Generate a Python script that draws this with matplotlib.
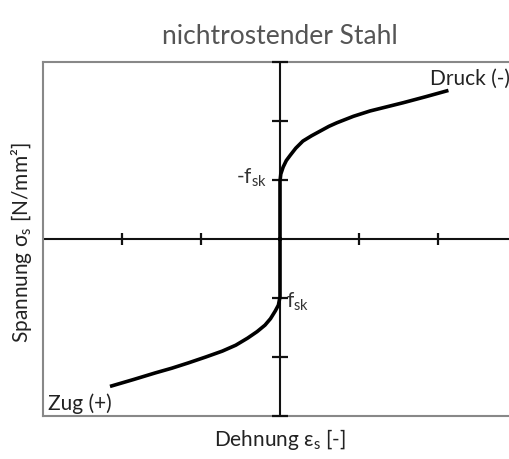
import numpy as np
import matplotlib
matplotlib.use('Agg')
import matplotlib.pyplot as plt

plt.rcParams['font.family'] = ['Lato', 'DejaVu Sans']
plt.rcParams['mathtext.fontset'] = 'custom'
plt.rcParams['mathtext.rm'] = 'Lato'
plt.rcParams['mathtext.it'] = 'Lato:italic'

# Druck-Ast (oben rechts) und Zug-Ast (unten links)
druck_x = [0.0, 0.0, 0.0, 0.01, 0.04, 0.08, 0.13, 0.20, 0.29, 0.40, 0.51, 0.62,
           0.72, 0.93, 1.14, 1.35, 1.56, 1.84, 2.11]
druck_y = [0.0, 0.6, 0.98, 1.10, 1.22, 1.33, 1.42, 1.54, 1.66, 1.75, 1.83, 1.91,
           1.97, 2.08, 2.17, 2.24, 2.31, 2.41, 2.51]
zug_x = [0.0, 0.0, 0.0, -0.02, -0.06, -0.12, -0.19, -0.29, -0.41, -0.56, -0.73,
         -0.94, -1.16, -1.37, -1.58, -1.85, -2.13]
zug_y = [0.0, -0.6, -0.98, -1.12, -1.22, -1.35, -1.46, -1.57, -1.68, -1.80, -1.90,
         -2.00, -2.10, -2.19, -2.27, -2.38, -2.49]

x_ticks = [-2, -1, 1, 2]
y_ticks = [-3, -2, -1, 1, 2, 3]

fig = plt.figure(figsize=(5.09, 4.6), dpi=100)
ax = fig.add_axes([43/509, 43/460, 466/509, 354/460])
ax.set_xlim(-3, -3 + 466/79)
ax.set_ylim(-3, 3)

for s in ['left', 'top', 'bottom']:
    ax.spines[s].set_color('#888888')
    ax.spines[s].set_linewidth(1.5)
ax.spines['right'].set_visible(False)
ax.set_xticks([])
ax.set_yticks([])

# Achsenkreuz
ax.axhline(0, color='#111111', lw=1.5, zorder=2)
ax.axvline(0, color='#111111', lw=1.5, zorder=2)
ax.plot(x_ticks, [0] * len(x_ticks), ls='none', marker='|', ms=9, mew=1.6,
        color='#111111', zorder=3, clip_on=False)
ax.plot([0] * len(y_ticks), y_ticks, ls='none', marker='_', ms=11, mew=1.6,
        color='#111111', zorder=3, clip_on=False)

ax.plot(druck_x, druck_y, color='black', lw=2.6, solid_joinstyle='round', zorder=4)
ax.plot(zug_x, zug_y, color='black', lw=2.6, solid_joinstyle='round', zorder=4)

ax.text(1.9, 2.73, 'Druck (-)', fontsize=15, color='#222222', ha='left', va='center')
ax.text(-2.94, -2.78, 'Zug (+)', fontsize=15, color='#222222', ha='left', va='center')
ax.text(-0.17, 1.05, r'-f$_\mathrm{sk}$', fontsize=15, color='#333333', ha='right', va='center')
ax.text(0.07, -1.05, r'f$_\mathrm{sk}$', fontsize=15, color='#333333', ha='left', va='center')

fig.text(280/509, 1 - 37/460, 'nichtrostender Stahl', fontsize=19, color='#555555',
         ha='center', va='center')
fig.text(280/509, 1 - 440/460, r'Dehnung $\mathrm{\epsilon_s}$ [-]', fontsize=15,
         color='#222222', ha='center', va='center')
fig.text(22/509, 1 - 243/460, r'Spannung $\mathrm{\sigma_s}$ [N/mm²]', fontsize=15,
         color='#222222', ha='center', va='center', rotation=90)

fig.savefig('out.png', dpi=100)
